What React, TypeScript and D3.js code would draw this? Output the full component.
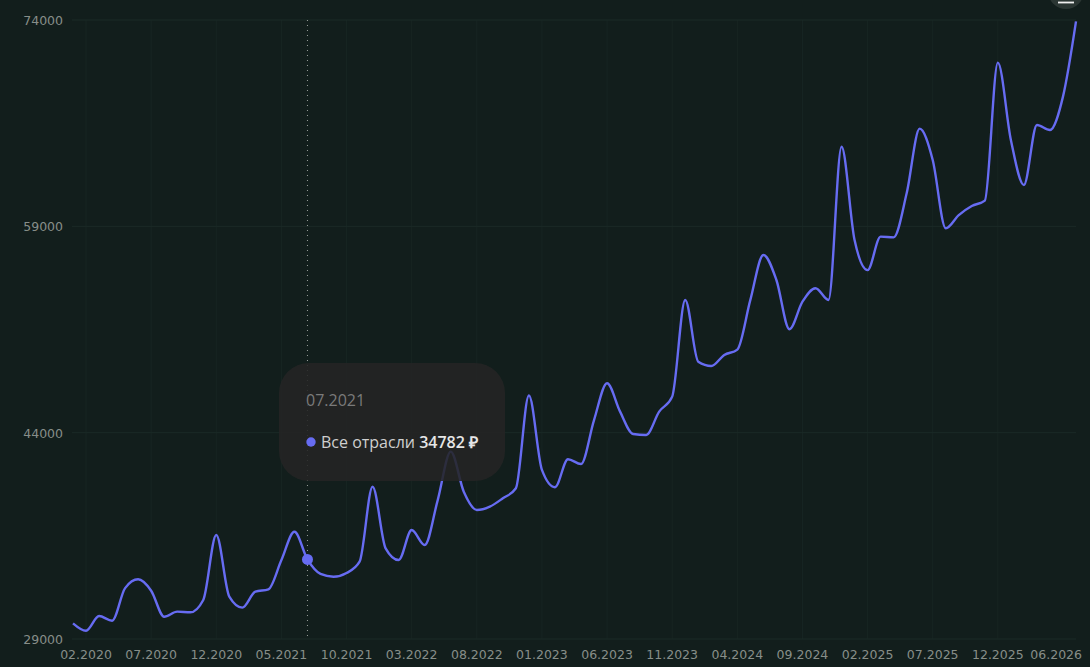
import React, { useEffect, useRef } from 'react';
import * as d3 from 'd3';

// monthly series, 01.2020 .. 06.2026
const startMonth = new Date(2020, 0, 1);
const endMonth = new Date(2026, 5, 1);
const months = d3.timeMonth.range(startMonth, d3.timeMonth.offset(endMonth, 1)).map(d3.timeFormat('%m.%Y'));

const seriesName = 'Все отрасли';
const values = [
  30140, 29600, 30670, 30330, 32700, 33340, 32510, 30620, 30990, 30940,
  31840, 36560, 32080, 31280, 32440, 32610, 34740, 36800, 34782, 33730,
  33530, 33800, 34620, 40070, 35590, 34740, 36920, 35830, 39100, 42620,
  39710, 38380, 38620, 39230, 39960, 46700, 41290, 40030, 42070, 41720,
  44920, 47590, 45530, 43900, 43830, 45530, 46620, 53650, 49160, 48850,
  49650, 50040, 53650, 56920, 55100, 51520, 53520, 54500, 53650, 64790,
  58000, 55820, 58250, 58200, 61400, 66100, 63820, 58860, 59820, 60480,
  60870, 70900, 65280, 62010, 66370, 66000, 68430, 73900,
];

const yTicks = [29000, 44000, 59000, 74000];
const xTickLabels = [
  '02.2020', '07.2020', '12.2020', '05.2021', '10.2021', '03.2022', '08.2022', '01.2023',
  '06.2023', '11.2023', '04.2024', '09.2024', '02.2025', '07.2025', '12.2025', '06.2026',
];
const hoverMonth = '07.2021';

const Chart: React.FC = () => {
  const svgRef = useRef<SVGSVGElement | null>(null);

  useEffect(() => {
    if (!svgRef.current) return;
    const svg = d3.select(svgRef.current);
    svg.selectAll('*').remove();

    const width = 1090;
    const height = 667;
    const margin = { top: 20, right: 14, bottom: 28, left: 73 };
    const lineColor = '#676cf2';
    const labelColor = '#878e89';
    const gridColor = '#1b2a27';
    const font = '"DejaVu Sans", sans-serif';

    svg.append('rect').attr('width', width).attr('height', height).attr('fill', '#121e1c');

    const x = d3.scalePoint<string>().domain(months).range([margin.left, width - margin.right]);
    const y = d3.scaleLinear().domain([29000, 74000]).range([height - margin.bottom, margin.top]);

    // grid
    const grid = svg.append('g');
    grid.selectAll('line.h')
      .data(yTicks)
      .join('line')
      .attr('x1', margin.left - 1)
      .attr('x2', width - margin.right)
      .attr('y1', d => y(d))
      .attr('y2', d => y(d))
      .attr('stroke', gridColor);
    grid.selectAll('line.v')
      .data(xTickLabels.slice(0, -1))
      .join('line')
      .attr('x1', d => x(d)!)
      .attr('x2', d => x(d)!)
      .attr('y1', margin.top)
      .attr('y2', height - margin.bottom)
      .attr('stroke', gridColor)
      .attr('opacity', 0.6);

    // y labels
    svg.append('g')
      .selectAll('text')
      .data(yTicks)
      .join('text')
      .attr('x', 63)
      .attr('y', d => y(d) + 5)
      .attr('text-anchor', 'end')
      .attr('fill', labelColor)
      .style('font', `12.5px ${font}`)
      .text(d => d);

    // x labels
    svg.append('g')
      .selectAll('text')
      .data(xTickLabels)
      .join('text')
      .attr('x', (d, i) => (i === xTickLabels.length - 1 ? x(d)! + 6 : x(d)!))
      .attr('y', 659)
      .attr('text-anchor', (d, i) => (i === xTickLabels.length - 1 ? 'end' : 'middle'))
      .attr('fill', labelColor)
      .style('font', `12.5px ${font}`)
      .text(d => d);

    // crosshair
    const hx = x(hoverMonth)!;
    svg.append('line')
      .attr('x1', hx)
      .attr('x2', hx)
      .attr('y1', margin.top)
      .attr('y2', height - margin.bottom)
      .attr('stroke', '#9aa09c')
      .attr('stroke-dasharray', '1 4');

    // line
    const line = d3.line<number>()
      .x((d, i) => x(months[i])!)
      .y(d => y(d))
      .curve(d3.curveMonotoneX);
    svg.append('path')
      .datum(values)
      .attr('d', line)
      .attr('fill', 'none')
      .attr('stroke', lineColor)
      .attr('stroke-width', 2.4);

    const hv = values[months.indexOf(hoverMonth)];
    svg.append('circle').attr('cx', hx).attr('cy', y(hv)).attr('r', 5.5).attr('fill', lineColor);

    // tooltip
    const tip = svg.append('g');
    tip.append('rect')
      .attr('x', 279)
      .attr('y', 363)
      .attr('width', 226)
      .attr('height', 118)
      .attr('rx', 30)
      .attr('fill', '#242424')
      .attr('opacity', 0.88);
    tip.append('text')
      .attr('x', 306)
      .attr('y', 406)
      .attr('fill', '#7a7a7a')
      .style('font', '16px "Open Sans", sans-serif')
      .text(hoverMonth);
    tip.append('circle').attr('cx', 311).attr('cy', 442).attr('r', 4.7).attr('fill', lineColor);
    const row = tip.append('text')
      .attr('x', 321)
      .attr('y', 448)
      .attr('fill', '#cfcfcf')
      .style('font', '16px "Open Sans", sans-serif');
    row.append('tspan').text(seriesName + ' ');
    row.append('tspan').attr('font-weight', 600).attr('fill', '#e6e6e6').text(`${hv} ₽`);

    // menu button
    const menu = svg.append('g');
    menu.append('circle').attr('cx', 1066).attr('cy', -9).attr('r', 18).attr('fill', '#2b3633');
    menu.append('line')
      .attr('x1', 1058).attr('x2', 1074)
      .attr('y1', 2.5).attr('y2', 2.5)
      .attr('stroke', '#f0f0f0').attr('stroke-width', 1.8);
    menu.append('line')
      .attr('x1', 1058).attr('x2', 1074)
      .attr('y1', -3).attr('y2', -3)
      .attr('stroke', '#f0f0f0').attr('stroke-width', 1.8);
  }, []);

  return <svg ref={svgRef} width={1090} height={667} style={{ display: 'block' }}></svg>;
};

export default function App() {
  return (
    <div style={{ position: 'fixed', left: 0, top: 0, width: 1090, height: 667, background: '#121e1c' }}>
      <Chart />
    </div>
  );
}
